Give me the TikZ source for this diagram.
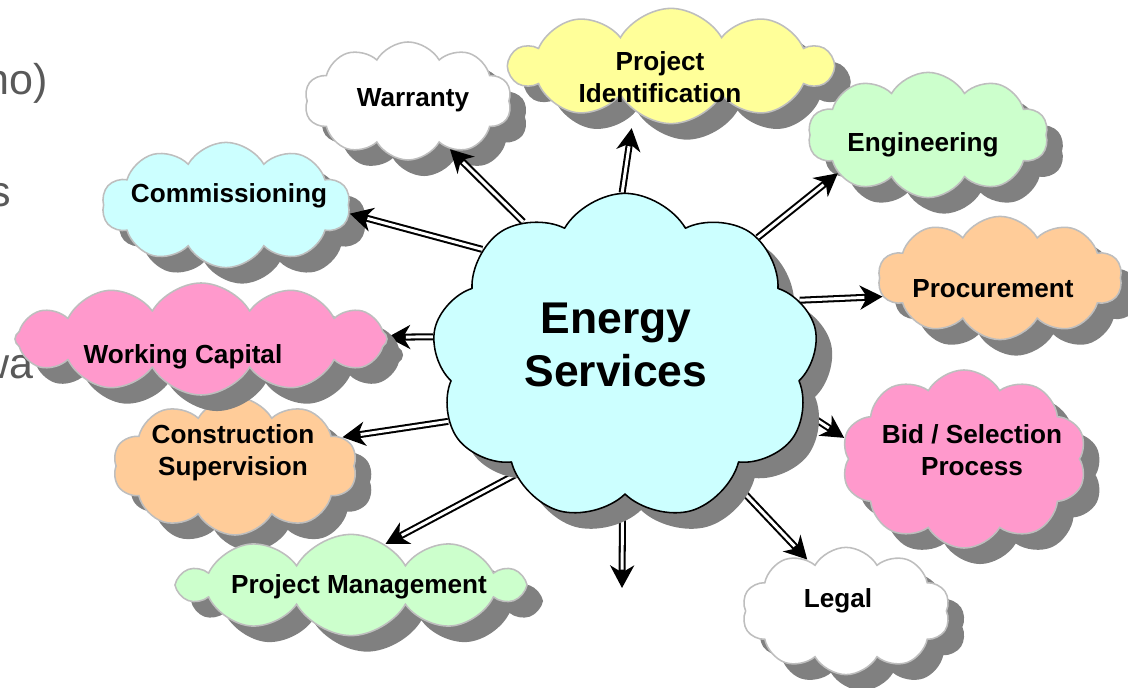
\documentclass[tikz,border=0pt]{standalone}
\usepackage{fontspec}
\setmainfont{Liberation Sans}
\usetikzlibrary{shapes.symbols,shadows,arrows.meta}
\definecolor{skyc}{RGB}{204,255,255}
\definecolor{lemon}{RGB}{255,255,153}
\definecolor{mint}{RGB}{204,255,204}
\definecolor{peach}{RGB}{255,204,153}
\definecolor{rose}{RGB}{255,153,204}
\definecolor{slide}{RGB}{89,89,89}
\definecolor{rim}{RGB}{190,190,190}
\pgfdeclarelayer{back}
\pgfdeclarelayer{mid}
\pgfsetlayers{back,mid,main}
\begin{document}
\begin{tikzpicture}[x=0.025cm, y=-0.025cm, line join=round,
	>={Stealth[length=16pt,width=17pt,inset=5pt]},
	puff/.style={cloud, cloud puffs=10, cloud puff arc=120, cloud ignores aspect, draw=rim, line width=1.1pt, inner sep=0pt,
		drop shadow={shadow xshift=11.4pt, shadow yshift=-11.4pt, fill=black!50, opacity=1}},
	lbl/.style={font=\bfseries\fontsize{18.6}{22.7}\selectfont, align=center},
	dbl/.style={->, draw=black, line width=5pt, postaction={draw=white, line width=2.1pt, -, shorten >=#1}},
	dbl/.default=13pt]
	\useasboundingbox (0,0) rectangle (1128,688);
	\begin{pgfonlayer}{back}
		\path[text=slide, font=\fontsize{30.6}{36}\selectfont] (53,95) node[anchor=base east] (rest1) {no)}
			(16,207) node[anchor=base east] (rest2) {s} (38,378) node[anchor=base east] (rest3) {wa};
		\node[puff, fill=white, minimum width=5.18cm, minimum height=2.95cm] (warranty) at (408,101) {};
		\node[lbl] (warranty-t) at (413,100) {Warranty};
		\node[puff, fill=lemon, minimum width=8.05cm, minimum height=2.88cm] (pi) at (671,66) {};
		\node[lbl] (pi-t) at (660,77) {Project\\Identification};
		\node[puff, fill=mint, minimum width=6cm, minimum height=3.13cm] (eng) at (928,135) {};
		\node[lbl] (eng-t) at (923,145) {Engineering};
		\node[puff, fill=skyc, minimum width=6.2cm, minimum height=3.13cm] (comm) at (226,205) {};
		\node[lbl] (comm-t) at (229,196) {Commissioning};
		\node[puff, fill=peach, minimum width=6.1cm, minimum height=3.08cm] (proc) at (1000,278) {};
		\node[lbl] (proc-t) at (993,289) {Procurement};
		\node[puff, fill=peach, minimum width=6.1cm, minimum height=3.45cm] (cs) at (235,466) {};
		\node[lbl] (cs-t) at (233,453) {Construction\\Supervision};
		\node[puff, fill=mint, minimum width=8.55cm, minimum height=2.53cm] (pm) at (351,585) {};
		\node[lbl] (pm-t) at (359,587) {Project Management};
		\node[puff, fill=rose, minimum width=6.13cm, minimum height=4.45cm] (bid) at (964,459) {};
		\node[lbl] (bid-t) at (972,450) {Bid / Selection\\Process};
		\node[puff, fill=white, minimum width=5.2cm, minimum height=3.18cm] (legal) at (846,611) {};
		\node[lbl] (legal-t) at (838,601) {Legal};
	\end{pgfonlayer}
	\node[puff, fill=skyc, draw=black, cloud puffs=9, minimum width=9.65cm, minimum height=8.18cm] (es) at (625,357) {};
	\node[font=\bfseries\fontsize{31.6}{37.7}\selectfont, align=center] (es-t) at (616,345) {Energy\\Services};
	\node[puff, fill=rose, cloud puffs=12, minimum width=9.3cm, minimum height=2.8cm] (wc) at (201,339) {};
	\node[lbl] (wc-t) at (183,357) {Working Capital};
	\coordinate (down) at (622,588);
	\begin{pgfonlayer}{mid}
		\draw[dbl] (es.127) -- (warranty.-49);
		\draw[dbl=25pt, shorten >=12pt] (es.91) -- (pi.-129);
		\draw[dbl] (es.42) -- (eng.203);
		\draw[dbl] (es.18) -- (proc.189);
		\draw[dbl] (es.-17) -- (bid.170);
		\draw[dbl] (es.-49) -- (legal.127);
		\draw[dbl] (es.-91) -- (down);
		\draw[dbl] (es.-133) -- (pm.50);
		\draw[dbl] (es.200) -- (cs.15);
		\draw[dbl] (es.174) -- (wc);
		\draw[dbl] (es.143) -- (comm.-4);
	\end{pgfonlayer}
\end{tikzpicture}
\end{document}
